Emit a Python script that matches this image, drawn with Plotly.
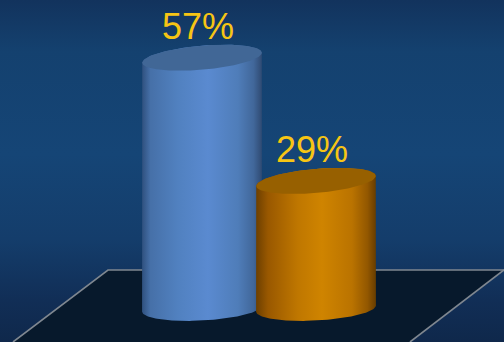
import numpy as np
import plotly.graph_objects as go

# ---- data ----
values = [57, 29]
labels = ["57%", "29%"]
body_colorscales = [
    [[0.0, "#2f507e"], [0.07, "#4670a8"], [0.3, "#5181c0"], [0.55, "#5a8ad0"],
     [0.8, "#4f7db9"], [0.93, "#41679a"], [1.0, "#2f4a72"]],
    [[0.0, "#6c3f00"], [0.1, "#995800"], [0.35, "#bf7700"], [0.55, "#cf8400"],
     [0.8, "#ba7300"], [0.93, "#925700"], [1.0, "#663c00"]],
]
cap_colors = ["#416796", "#976000"]
label_color = "#f7c514"

# ---- geometry (x in pixels, y in value units) ----
W, H = 504, 342
PX_PER_UNIT = 4.4
BASE_PX = 308.5                     # screen row of value 0
Y_MIN = -(H - BASE_PX) / PX_PER_UNIT
Y_MAX = BASE_PX / PX_PER_UNIT
X0, DX, RADIUS = 202, 114, 60
CAP_B, BASE_B = 12, 12              # ellipse semi-minor axes (px)
TILT_TOP, TILT_BOT = np.radians(5.0), np.radians(3.0)


def to_val(px_row):
    return (BASE_PX - px_row) / PX_PER_UNIT


def ellipse(cx, cy, a, b, theta, t):
    x = cx + a * np.cos(t) * np.cos(theta) - b * np.sin(t) * np.sin(theta)
    y = cy + (a * np.cos(t) * np.sin(theta) + b * np.sin(t) * np.cos(theta)) / PX_PER_UNIT
    return x, y


fig = go.Figure()

# background vertical gradient
fig.add_trace(go.Scatter(
    x=[0, W, W, 0, 0], y=[Y_MIN, Y_MIN, Y_MAX, Y_MAX, Y_MIN],
    mode="lines", line=dict(width=0), fill="toself",
    fillgradient=dict(type="vertical", start=Y_MIN, stop=Y_MAX, colorscale=[
        [0.0, "#0f284b"], [0.12, "#112e56"], [0.3, "#143d6b"], [0.55, "#154576"],
        [0.85, "#14416f"], [1.0, "#12335d"]]),
    hoverinfo="skip", showlegend=False))

# floor plane
floor_top, floor_bot = to_val(270), Y_MIN
fig.add_trace(go.Scatter(
    x=[108, 504, 410, 13, 108], y=[floor_top, floor_top, floor_bot, floor_bot, floor_top],
    mode="lines", line=dict(width=0), fill="toself", fillcolor="#07192c",
    hoverinfo="skip", showlegend=False))
for xs, ys in ([[13, 108, 504], [floor_bot, floor_top, floor_top]],
               [[504, 410], [floor_top, floor_bot]]):
    fig.add_trace(go.Scatter(x=xs, y=ys, mode="lines",
                             line=dict(color="#7f8790", width=1.6),
                             hoverinfo="skip", showlegend=False))

# cylinders
for i, v in enumerate(values):
    cx = X0 + i * DX
    lower = np.linspace(np.pi, 2 * np.pi, 80)
    upper = np.linspace(0, np.pi, 80)
    bx, by = ellipse(cx, 0, RADIUS, BASE_B, TILT_BOT, lower)
    tx, ty = ellipse(cx, v, RADIUS, CAP_B, TILT_TOP, upper)
    fig.add_trace(go.Scatter(
        x=np.concatenate([bx, tx, bx[:1]]), y=np.concatenate([by, ty, by[:1]]),
        mode="lines", line=dict(width=0), fill="toself",
        fillgradient=dict(type="horizontal", start=cx - RADIUS, stop=cx + RADIUS,
                          colorscale=body_colorscales[i]),
        hoverinfo="skip", showlegend=False))
    full = np.linspace(0, 2 * np.pi, 160)
    ex, ey = ellipse(cx, v, RADIUS, CAP_B, TILT_TOP, full)
    fig.add_trace(go.Scatter(
        x=ex, y=ey, mode="lines", line=dict(width=0), fill="toself",
        fillcolor=cap_colors[i], hoverinfo="skip", showlegend=False))
    fig.add_annotation(x=cx, y=v, text=labels[i], showarrow=False,
                       xanchor="center", yanchor="middle", xshift=-4, yshift=31,
                       font=dict(family="Liberation Sans, Arial, sans-serif",
                                 size=36, color=label_color))

fig.update_layout(
    width=W, height=H, margin=dict(l=0, r=0, t=0, b=0),
    paper_bgcolor="#123460", plot_bgcolor="#123460",
    xaxis=dict(range=[0, W], visible=False, fixedrange=True),
    yaxis=dict(range=[Y_MIN, Y_MAX], visible=False, fixedrange=True),
    showlegend=False,
)
fig.write_html("out.html", config={"displayModeBar": False})
